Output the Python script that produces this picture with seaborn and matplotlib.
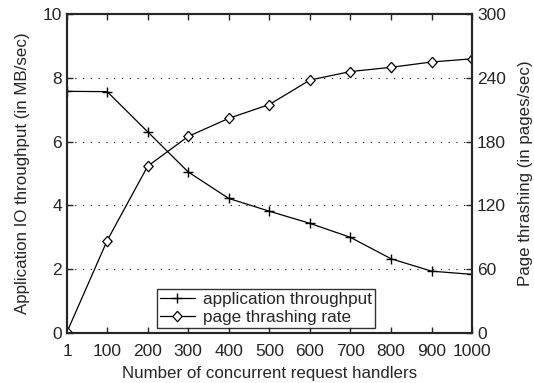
import pandas as pd
import seaborn as sns
import matplotlib
matplotlib.use("Agg")
import matplotlib.pyplot as plt

# values
handlers = [1, 100, 200, 300, 400, 500, 600, 700, 800, 900, 1000]
throughput = [7.58, 7.57, 6.31, 5.05, 4.22, 3.82, 3.44, 3.0, 2.33, 1.94, 1.84]
thrashing = [1, 87, 157, 185, 202, 215, 238, 246, 250, 255, 258]

df = pd.DataFrame({"handlers": handlers, "throughput": throughput, "thrashing": thrashing})

sns.set_style("ticks")
plt.rcParams["font.family"] = ["Liberation Sans", "DejaVu Sans"]

fig = plt.figure(figsize=(5.34, 3.83), dpi=100)
ax = fig.add_axes([0.1255, 0.1305, 0.7585, 0.8325])
ax2 = ax.twinx()

diamond = [(0, 1), (0.9, 0), (0, -1), (-0.9, 0), (0, 1)]

sns.lineplot(data=df, x="handlers", y="throughput", ax=ax, color="black", lw=0.9,
             marker="+", markersize=7, markeredgewidth=1.0, markeredgecolor="black",
             label="application throughput", legend=False)
sns.lineplot(data=df, x="handlers", y="thrashing", ax=ax2, color="black", lw=0.9,
             marker=diamond, markersize=7.5, markerfacecolor="white", markeredgewidth=0.9,
             markeredgecolor="black", label="page thrashing rate", legend=False)

ax.set_xlim(1, 1000)
ax.set_ylim(0, 10)
ax2.set_ylim(0, 300)
ax.set_xticks(handlers)
ax.set_yticks([0, 2, 4, 6, 8, 10])
ax2.set_yticks([0, 60, 120, 180, 240, 300])

# dotted grid only on inner levels
for yv in [2, 4, 6, 8]:
    ax.axhline(yv, color="black", ls=(0, (1, 6)), lw=0.8, zorder=0)

ax.set_xlabel("Number of concurrent request handlers", fontsize=12.2, labelpad=5)
ax.set_ylabel("Application IO throughput (in MB/sec)", fontsize=12.2, labelpad=9)
ax2.set_ylabel("Page thrashing (in pages/sec)", fontsize=12.2, labelpad=9)

ax.tick_params(axis="both", direction="in", labelsize=12.5, length=4, top=True, width=1)
ax.tick_params(axis="x", pad=8)
ax2.tick_params(axis="y", direction="in", labelsize=12.5, length=4, width=1)
for a in (ax, ax2):
    for s in a.spines.values():
        s.set_linewidth(1.5)

h1, l1 = ax.get_legend_handles_labels()
h2, l2 = ax2.get_legend_handles_labels()
leg = ax2.legend(h1 + h2, l1 + l2, loc="lower left", bbox_to_anchor=(0.222, 0.015),
                 fontsize=12.3, frameon=True, fancybox=False, edgecolor="black",
                 handlelength=2.0, borderpad=0.2, labelspacing=0.15, handletextpad=0.5,
                 borderaxespad=0)
leg.get_frame().set_linewidth(1.0)

fig.savefig("out.png", dpi=100)
